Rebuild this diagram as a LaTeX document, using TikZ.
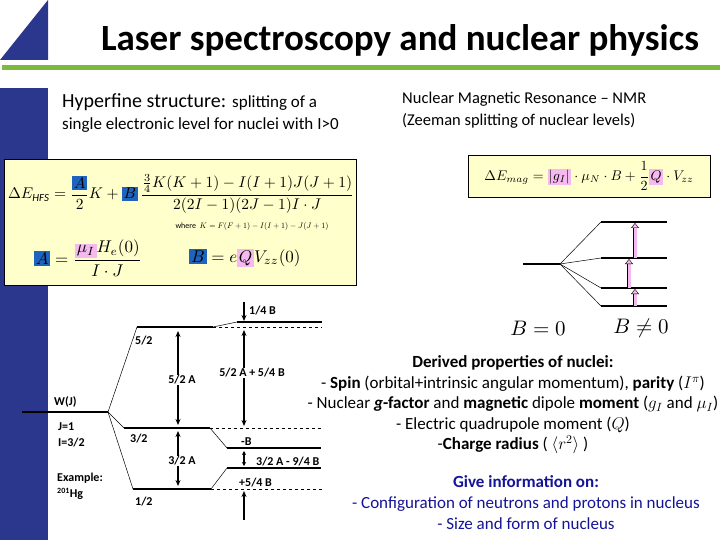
\documentclass[tikz,border=0pt]{standalone}
\usepackage{fix-cm}
\usepackage{amsmath,amssymb}
\usepackage{fontspec}
\setmainfont{Carlito}
\usetikzlibrary{arrows.meta}
\definecolor{navy}{RGB}{43,55,140}
\definecolor{grn}{RGB}{125,185,60}
\definecolor{yel}{RGB}{255,255,204}
\definecolor{hlb}{RGB}{30,100,190}
\definecolor{pk}{RGB}{245,185,240}
\definecolor{dblue}{RGB}{20,20,150}
\newcommand\hlB[1]{{\setlength\fboxsep{1pt}\colorbox{hlb}{$#1$}}}
\newcommand\hlP[1]{{\setlength\fboxsep{1pt}\colorbox{pk}{$#1$}}}
\begin{document}
\begin{tikzpicture}[x=1pt,y=-1pt,
  lvl/.style={line width=2.2pt},
  dsh/.style={dashed,line width=0.6pt},
  thin/.style={line width=0.5pt},
  arr/.style={line width=1.2pt,-{Stealth[length=6pt,width=5pt]}},
  darr/.style={line width=1.2pt,{Stealth[length=6pt,width=5pt]}-{Stealth[length=6pt,width=5pt]}},
  lab/.style={font=\fontsize{12}{13}\selectfont\bfseries, inner sep=1pt},
  pka/.style={draw=black,line width=0.4pt,double=pk,double distance=3pt,-{Triangle[length=5pt,width=8pt,fill=pk]}}]
\useasboundingbox (0,0) rectangle (720,540);
% frame decorations
\fill[navy] (0,60) -- (48,0) -- (48,60) -- cycle;
\fill[navy] (0,88) rectangle (48,540);
\fill[grn] (2,65) rectangle (720,70);
\node[font=\fontsize{37}{40}\selectfont\bfseries] (title) at (400,40) {Laser spectroscopy and nuclear physics};
\node[anchor=west,inner sep=0,font=\fontsize{20}{22}\selectfont] (hfs1) at (62,102) {Hyperfine structure: {\fontsize{17}{19}\selectfont splitting of a}};
\node[anchor=west,inner sep=0,font=\fontsize{17}{19}\selectfont] (hfs2) at (62,125) {single electronic level for nuclei with I>0};
\node[anchor=west,inner sep=0,font=\fontsize{16.5}{19}\selectfont] (nmr1) at (402,99) {Nuclear Magnetic Resonance -- NMR};
\node[anchor=west,inner sep=0,font=\fontsize{16.5}{19}\selectfont] (nmr2) at (402,121) {(Zeeman splitting of nuclear levels)};
% formula box HFS
\draw[fill=yel,line width=0.8pt] (4,159) rectangle (356,285);
\node (f1) at (181,194) {\scalebox{1.55}{$\Delta E_{\mathit{HFS}}=\dfrac{\hlB{A}}{2}K+\hlB{B}\,\dfrac{\frac34K(K+1)-I(I+1)J(J+1)}{2(2I-1)(2J-1)I\cdot J}$}};
\node (f2) at (252,227) {\scalebox{0.8}{where\ \ $K=F(F+1)-I(I+1)-J(J+1)$}};
\node (f3) at (88,258) {\scalebox{1.7}{$\hlB{A}=\dfrac{\hlP{\mu_I}H_e(0)}{I\cdot J}$}};
\node (f4) at (245,258) {\scalebox{1.7}{$\hlB{B}=e\hlP{Q}V_{zz}(0)$}};
% formula box NMR
\draw[fill=yel,line width=0.8pt] (468,155) rectangle (710,197);
\node (f5) at (589,176) {\scalebox{1.4}{$\Delta E_{mag}=\hlP{|g_I|}\cdot\mu_N\cdot B+\dfrac12\hlP{Q}\cdot V_{zz}$}};
% NMR levels
\coordinate (n0l) at (523,264); \coordinate (n0r) at (560,264);
\draw[lvl] (n0l) -- (n0r);
\foreach \y/\n in {222/a,258/b,288/c,306/d}{
  \coordinate (n\n l) at (601,\y); \coordinate (n\n r) at (667,\y);
  \draw[lvl] (n\n l) -- (n\n r);
  \draw[thin] (n0r) -- (n\n l);}
\draw[pka] (635,306) -- (635,289);
\draw[pka] (629,288) -- (629,259);
\draw[pka] (635,258) -- (635,223);
\node (b0) at (538,328) {\scalebox{2.1}{$B=0$}};
\node (b1) at (641,328) {\scalebox{2.1}{$B\neq 0$}};
% HFS levels
\coordinate (wl) at (22,412); \coordinate (wr) at (108,412);
\draw[lvl] (wl) -- (wr);
\coordinate (l5l) at (137,327); \coordinate (l5r) at (213,327);
\coordinate (l3l) at (124,428); \coordinate (l3r) at (210,428);
\coordinate (l1l) at (133,489); \coordinate (l1r) at (211,489);
\draw[lvl] (l5l) -- (l5r); \draw[lvl] (l3l) -- (l3r); \draw[lvl] (l1l) -- (l1r);
\draw[thin] (wr) -- (l5l); \draw[thin] (wr) -- (l3l); \draw[thin] (wr) -- (l1l);
\coordinate (r5l) at (237,322); \coordinate (r5r) at (322,322);
\coordinate (r3l) at (227,448); \coordinate (r3r) at (321,448);
\coordinate (r1l) at (227,468); \coordinate (r1r) at (321,468);
\draw[lvl] (r5l) -- (r5r); \draw[lvl] (r3l) -- (r3r); \draw[lvl] (r1l) -- (r1r);
\draw[thin] (l5r) -- (r5l); \draw[thin] (l3r) -- (r3l); \draw[thin] (l1r) -- (r1l);
\draw[dsh] (l5r) -- (322,327); \draw[dsh] (l3r) -- (322,428); \draw[dsh] (l1r) -- (322,489);
% arrows
\coordinate (a1) at (178,331); \coordinate (a2) at (178,425);
\coordinate (a3) at (178,431); \coordinate (a4) at (178,486);
\draw[darr] (a1) -- (a2); \draw[darr] (a3) -- (a4);
\node[lab,fill=white] (t5) at (182,380) {5/2 A};
\node[lab,fill=white] (t3) at (182,461) {3/2 A};
\coordinate (c0) at (244,302); \coordinate (c1) at (244,321);
\draw[arr] (c0) -- (c1);
\coordinate (c2) at (244,330); \coordinate (c3) at (244,426);
\draw[darr] (c2) -- (c3);
\node[lab,fill=white] (t54) at (252,373) {5/2 A + 5/4 B};
\coordinate (c4) at (244,451); \coordinate (c5) at (244,466);
\draw[line width=1.2pt,{Stealth[length=4pt,width=4pt]}-{Stealth[length=4pt,width=4pt]}] (c4) -- (c5);
\coordinate (c6) at (244,520); \coordinate (c7) at (244,491);
\draw[arr] (c6) -- (c7);
\node[lab,anchor=west] (q) at (248,311) {1/4 B};
\node[lab,anchor=west] (mb) at (240,442) {-B};
\node[lab,anchor=west] (t39) at (255,462) {3/2 A - 9/4 B};
\node[lab,anchor=west] (p54) at (238,483) {+5/4 B};
\node[lab,anchor=west] (s5) at (134,341) {5/2};
\node[lab,anchor=west] (s3) at (129,439) {3/2};
\node[lab,anchor=west] (s1) at (134,502) {1/2};
\node[lab,anchor=west] (wj) at (53,402) {W(J)};
\node[lab,anchor=west] (j1) at (57,427) {J=1};
\node[lab,anchor=west] (i3) at (57,443) {I=3/2};
\node[lab,anchor=west] (ex) at (56,478) {Example:};
\node[lab,anchor=west] (hg) at (56,494) {$^{\text{201}}$Hg};
% right texts
\node[font=\fontsize{17}{20.5}\selectfont,align=center] (prop) at (513,405) {\textbf{Derived properties of nuclei:}\\
- \textbf{Spin} (orbital+intrinsic angular momentum), \textbf{parity} ($I^\pi$)\\
- Nuclear \textbf{\textit{g}-factor} and \textbf{magnetic} dipole \textbf{moment} ($g_I$ and $\mu_I$)\\
- Electric quadrupole moment ($Q$)\\
-\textbf{Charge radius} ( $\langle r^2\rangle$ )};
\node[font=\fontsize{17}{21}\selectfont,align=center,text=dblue] (info) at (526,503) {\textbf{Give information on:}\\
- Configuration of neutrons and protons in nucleus\\
- Size and form of nucleus};
\end{tikzpicture}
\end{document}
